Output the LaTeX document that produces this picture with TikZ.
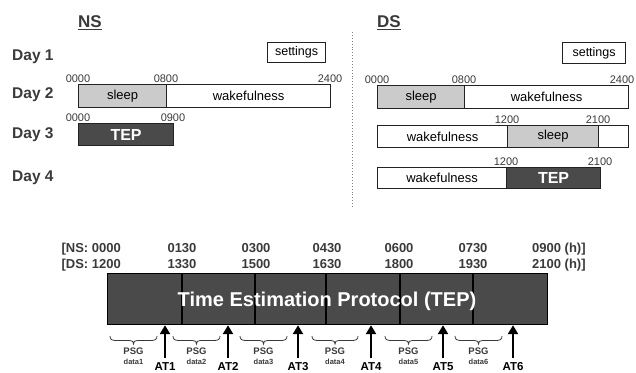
\documentclass[tikz,border=0pt]{standalone}
\usepackage{fontspec}
\setmainfont{Liberation Sans}
\usetikzlibrary{arrows.meta}
\definecolor{tepgray}{HTML}{4A4A4A}
\definecolor{sleepgray}{HTML}{CBCBCB}
\definecolor{linegray}{HTML}{222222}
\definecolor{txtgray}{HTML}{3A3A3A}
\begin{document}
\begin{tikzpicture}[x=1pt,y=-1pt,
  seg/.style={draw=linegray,line width=1.2pt,inner sep=0pt,anchor=north west,
    font=\fontsize{13}{15}\selectfont},
  sleepseg/.style={seg,fill=sleepgray},
  wakeseg/.style={seg,fill=white},
  tepseg/.style={seg,fill=tepgray,text=white,font=\bfseries\fontsize{16}{18}\selectfont},
  setbox/.style={draw=linegray,line width=1.2pt,inner sep=0pt,minimum width=58pt,minimum height=20pt,
    anchor=north west,font=\fontsize{12.5}{14}\selectfont},
  daylbl/.style={anchor=base west,inner sep=0pt,font=\bfseries\fontsize{15.5}{17}\selectfont,text=txtgray},
  grouplbl/.style={anchor=base west,inner sep=0pt,font=\bfseries\fontsize{17}{19}\selectfont,text=txtgray},
  tick/.style={anchor=base,inner sep=0pt,font=\fontsize{11}{12}\selectfont,text=txtgray},
  hdr/.style={anchor=base,inner sep=0pt,font=\bfseries\fontsize{13}{15}\selectfont,text=txtgray},
  divline/.style={draw=black,line width=1.2pt},
  atlbl/.style={anchor=base,inner sep=0pt,font=\bfseries\fontsize{11.5}{12}\selectfont},
  atarrow/.style={line width=2.6pt,-{Triangle[length=9pt,width=10pt]}},
  psgbrace/.style={draw=txtgray,line width=0.8pt},
  psglbl/.style={anchor=base,inner sep=0pt,text=txtgray,align=center,
    font=\bfseries\fontsize{9.5}{10}\selectfont},
  datlbl/.style={psglbl,font=\bfseries\fontsize{7.5}{8}\selectfont}
]
\useasboundingbox (0,0) rectangle (636,372);

% group titles
\node[grouplbl] (ns) at (78,27) {NS};
\draw[line width=1.2pt,txtgray] ([yshift=-2.5pt]ns.base west) -- ([yshift=-2.5pt]ns.base east);
\node[grouplbl] (ds) at (377,27) {DS};
\draw[line width=1.2pt,txtgray] ([yshift=-2.5pt]ds.base west) -- ([yshift=-2.5pt]ds.base east);

% day labels
\node[daylbl] (d1) at (12,60) {Day 1};
\node[daylbl] (d2) at (12,98) {Day 2};
\node[daylbl] (d3) at (12,138) {Day 3};
\node[daylbl] (d4) at (12,181) {Day 4};

% separator
\coordinate (septop) at (352,32);
\coordinate (sepbot) at (352,207);
\draw[dotted,line width=0.9pt,gray] (septop) -- (sepbot);

% settings
\node[setbox] (nsset) at (267,42) {settings};
\node[setbox,minimum width=63pt,minimum height=21pt] (dsset) at (562,42) {settings};

% NS day 2
\node[sleepseg,minimum width=88pt,minimum height=23pt] (nsdsleep) at (78,84) {sleep};
\node[wakeseg,minimum width=164pt,minimum height=23pt] (nsdwake) at (166,84) {wakefulness};
\node[tick] (t1) at (78,82) {0000};
\node[tick] (t2) at (166,82) {0800};
\node[tick] (t3) at (330,82) {2400};

% NS day 3
\node[tepseg,minimum width=95pt,minimum height=22pt] (nstep) at (78,123) {TEP};
\node[tick] (t4) at (78,121) {0000};
\node[tick] (t5) at (173,121) {0900};

% DS day 2
\node[sleepseg,minimum width=87pt,minimum height=23pt] (dsdsleep) at (377,85) {sleep};
\node[wakeseg,minimum width=164pt,minimum height=23pt] (dsdwake) at (464,85) {wakefulness};
\node[tick] (t6) at (377,83) {0000};
\node[tick] (t7) at (464,83) {0800};
\node[tick] (t8) at (622,83) {2400};

% DS day 3
\node[wakeseg,minimum width=130pt,minimum height=22pt] (ds3wake) at (377,125) {wakefulness};
\node[sleepseg,minimum width=91pt,minimum height=22pt] (ds3sleep) at (507,125) {sleep};
\node[wakeseg,minimum width=30pt,minimum height=22pt] (ds3end) at (598,125) {};
\node[tick] (t9) at (507,123) {1200};
\node[tick] (t10) at (598,123) {2100};

% DS day 4
\node[wakeseg,minimum width=129pt,minimum height=21pt] (ds4wake) at (377,167) {wakefulness};
\node[tepseg,minimum width=94pt,minimum height=21pt] (ds4tep) at (506,167) {TEP};
\node[tick] (t11) at (506,165) {1200};
\node[tick] (t12) at (600,165) {2100};

% header of bottom timeline
\node[hdr,anchor=base east] (h0a) at (121,252) {[NS: 0000};
\node[hdr,anchor=base east] (h0b) at (121,268) {[DS: 1200};
\node[hdr] (h1a) at (182,252) {0130};
\node[hdr] (h1b) at (182,268) {1330};
\node[hdr] (h2a) at (256,252) {0300};
\node[hdr] (h2b) at (256,268) {1500};
\node[hdr] (h3a) at (327,252) {0430};
\node[hdr] (h3b) at (327,268) {1630};
\node[hdr] (h4a) at (399,252) {0600};
\node[hdr] (h4b) at (399,268) {1800};
\node[hdr] (h5a) at (473,252) {0730};
\node[hdr] (h5b) at (473,268) {1930};
\node[hdr,anchor=base west] (h6a) at (532,252) {0900 (h)]};
\node[hdr,anchor=base west] (h6b) at (532,268) {2100 (h)]};

% big TEP bar
\node[draw=black,line width=1.2pt,fill=tepgray,inner sep=0pt,anchor=north west,
  minimum width=440pt,minimum height=51pt] (tep) at (107,273) {};
\foreach \x in {182,255,326,400,473}{
  \draw[divline] (\x,273) -- (\x,324);
}
\node[anchor=base,inner sep=0pt,text=white,font=\bfseries\fontsize{20}{22}\selectfont] (teplbl) at (327,306) {Time Estimation Protocol (TEP)};

% arrows and AT labels
\foreach \x/\n in {165/1,228/2,298/3,371/4,443/5,513/6}{
  \node[atlbl] (at\n) at (\x,370) {AT\n};
  \coordinate (atb\n) at (\x,358);
  \draw[atarrow] (atb\n) -- (atb\n |- tep.south);
}

% PSG braces (tip pointing down)
\foreach \a/\b/\n in {110/157/1,173/220/2,240/287/3,312/358/4,385/432/5,455/502/6}{
  \pgfmathsetmacro{\m}{(\a+\b)/2}
  \coordinate (bl\n) at (\a,336);
  \coordinate (br\n) at (\b,336);
  \draw[psgbrace] (bl\n) .. controls (\a,339.5) and (\a+2,340.5) .. (\a+6,340.5)
    -- (\m-4,340.5) .. controls (\m-1,340.5) and (\m,341.5) .. (\m,344)
    .. controls (\m,341.5) and (\m+1,340.5) .. (\m+4,340.5)
    -- (\b-6,340.5) .. controls (\b-2,340.5) and (\b,339.5) .. (br\n);
  \node[psglbl] (psg\n) at (\m,354) {PSG};
  \node[datlbl] (dat\n) at (\m,364) {data\n};
}
\end{tikzpicture}
\end{document}
